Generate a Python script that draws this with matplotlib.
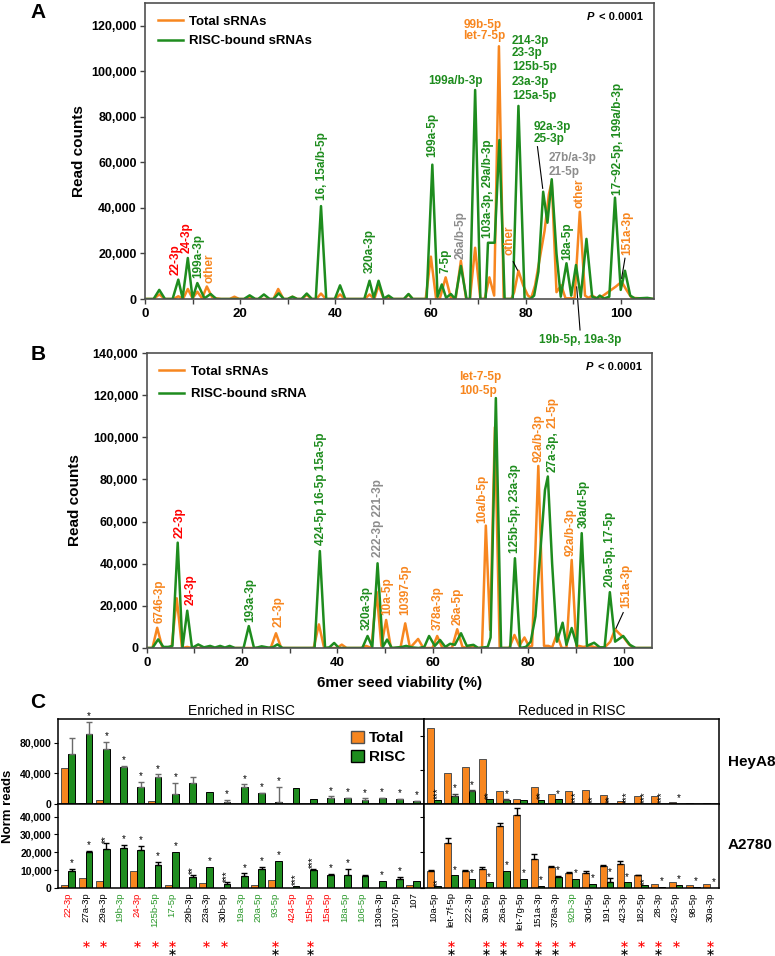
import matplotlib
matplotlib.use('Agg')
import matplotlib.pyplot as plt
from matplotlib.patches import Patch
import matplotlib.transforms as mtransforms

plt.rcParams['font.family'] = ['Liberation Sans', 'DejaVu Sans']

ORG = '#F7861F'
GRN = '#1E8C1E'
RED = '#FF0000'
GRY = '#8C8C8C'
LBL = {'r': RED, 'g': '#2A982A', 'k': 'black'}

# ---- panel A: read counts vs seed viability ----
a_tot_x = [0, 1.8, 3, 4.2, 6, 7, 8, 9, 10, 11, 12, 13, 14.1, 15, 16, 17.8, 18.8, 19.8, 21, 22, 23,
           27, 28, 29.1, 30, 31, 32, 33, 34, 35, 36, 37, 38, 40, 41, 42, 46.2, 47.2, 48.2, 49.1,
           50.2, 51.2, 52, 54.5, 55.4, 56.3, 59, 60.1, 61.2, 62, 63.2, 64.3, 65.3, 66.4, 67.5,
           68.3, 69.4, 70.5, 71.4, 72.4, 73.4, 74.4, 75.4, 77, 77.6, 78.5, 79.5, 80.5, 81.2, 82,
           83, 84, 84.9, 85.5, 86.5, 87.5, 88.4, 90.3, 91.4, 92.5, 93.2, 94, 95, 96, 97, 98, 99,
           100.2, 101.2, 102.3, 107]
a_tot_y = [0, 0, 2000, 0, 0, 1200, 0, 4400, 300, 3200, 300, 5500, 800, 300, 0, 0, 1000, 0, 0, 600, 0,
           0, 4400, 0, 0, 1000, 0, 0, 1800, 0, 0, 2400, 0, 0, 2000, 0, 0, 2000, 0, 6000,
           0, 500, 0, 0, 2000, 0, 0, 18600, 0, 300, 9500, 500, 0, 16800, 0,
           0, 22500, 0, 0, 9500, 1500, 111000, 0, 0, 3000, 12400, 6000, 1500, 500, 6000,
           18000, 30000, 46000, 51500, 3000, 6000, 300, 300, 38300, 1500, 500, 1500, 300, 1000, 2500, 4000, 5500,
           7600, 4000, 500, 0]
a_risc_x = [0, 1.8, 3, 4.2, 5.8, 7, 7.9, 9, 10, 11, 12.5, 13.8, 15, 20.8, 22, 23.2, 23.8, 25, 26.2,
            27, 28.1, 29.2, 30, 31, 32, 32.9, 34, 35.1, 35.9, 37, 38.1, 39.9, 41, 42.1, 46.1, 47.2,
            48.1, 49.1, 50.2, 51.2, 52.2, 54.4, 55.4, 56.3, 59.2, 60.4, 61.5, 62.4, 63.3, 64.3,
            65.2, 66.4, 67.6, 68.3, 69.4, 70.5, 71.6, 72.1, 73.5, 74.5, 75.6, 77.3, 78.5, 79.8, 81,
            81.8, 82.7, 83.7, 84.6, 85.5, 86.5, 87.4, 88.6, 89.6, 90.6, 91.6, 92.8, 94, 95, 95.6,
            96.5, 97.6, 98.8, 100, 100.9, 102, 103, 105.6, 107]
a_risc_y = [0, 0, 4000, 0, 0, 8500, 300, 18000, 300, 7000, 300, 2200, 0, 0, 1600, 0, 0, 2000, 0,
            0, 2500, 0, 0, 1000, 0, 0, 2400, 0, 0, 40800, 0, 0, 6000, 0, 0, 8000,
            500, 8000, 200, 1500, 0, 0, 2200, 0, 0, 59000, 1000, 6400, 500, 2200,
            0, 14500, 0, 0, 91800, 0, 0, 24700, 24700, 69800, 0, 0, 84800, 0, 0,
            1500, 12000, 47100, 33500, 52600, 20000, 1000, 15700, 1500, 14900, 800, 26400, 1000, 300, 1500,
            200, 1000, 44500, 4000, 12400, 1500, 200, 500, 0]

# ---- panel B ----
b_tot_x = [0, 1.2, 2.2, 3.3, 5.2, 6.3, 7.4, 8.5, 9.5, 26, 27.1, 28.2, 35, 36.1, 37.2, 39.9, 40.9,
           41.9, 45, 46, 47.1, 48.2, 49.2, 50.2, 51.2, 53.2, 54.2, 55.2, 56.9, 58, 59.9, 60.9, 62,
           64, 65.1, 66.2, 67.3, 68.3, 69.3, 70.3, 71.1, 72, 73, 74, 76, 77.1, 78.1, 79.2, 80.2,
           80.8, 82.1, 83.3, 84.2, 85, 86, 87, 88, 89.1, 90.1, 90.6, 91.5, 93, 94, 96, 97.2, 98.2,
           99, 100, 101, 102, 106]
b_tot_y = [0, 0, 9600, 0, 0, 23600, 0, 500, 0, 0, 7000, 0, 0, 11200, 0, 0, 1600,
           0, 0, 1000, 0, 26700, 1000, 13300, 0, 0, 11700, 0, 4300, 0, 0, 5700, 0,
           0, 8900, 500, 0, 1000, 0, 0, 58100, 8600, 104800, 0, 0, 6200, 1000, 5000, 500,
           1000, 86400, 1000, 1000, 300, 6600, 0, 0, 41800, 500, 1000, 500, 1000, 300, 300, 3000, 8900,
           7000, 5000, 2000, 0, 0]
b_risc_x = [0, 1.2, 2.4, 3.5, 4.5, 5.4, 6.5, 7.5, 8.5, 9.5, 10.8, 12, 13.3, 14.3, 15.4, 16.4, 17.4,
            18.5, 20.3, 21.4, 22.5, 23.3, 24.1, 25.5, 26.4, 27.4, 28.5, 35.2, 36.3, 37.4, 38.3,
            39.3, 40.3, 45.2, 46.3, 47.3, 48.4, 49.5, 50.4, 51.4, 53.5, 54.4, 55.5, 57, 58.2, 59.2,
            60.4, 61.5, 62.6, 63.6, 64.6, 65.9, 67.1, 68.5, 69.5, 71.5, 72.1, 73.2, 74.3, 76.2,
            77.2, 78.3, 79.5, 80.5, 81.5, 82.5, 83.5, 84.1, 85, 86, 87.2, 88, 89.1, 90.2, 91.2,
            92.3, 93.8, 95, 96, 97.1, 98.2, 99.9, 101.3, 102.5, 106]
b_risc_y = [0, 0, 4100, 500, 500, 1000, 50000, 0, 17700, 0, 1700, 300, 1000, 200, 1000, 200, 1000,
            0, 0, 10400, 0, 300, 800, 200, 300, 1700, 0, 0, 46000, 0, 300,
            2400, 0, 0, 5700, 500, 40200, 500, 4000, 0, 500, 1000, 300, 0, 500, 5700,
            1000, 3800, 500, 2000, 1500, 7000, 1000, 1500, 0, 500, 5000, 118600, 0, 0,
            42600, 0, 500, 3000, 15000, 45000, 75000, 81400, 40000, 3000, 12000, 1500, 9500, 1000, 54500,
            1000, 2500, 300, 300, 26500, 3000, 5700, 1500, 0, 0]

# ---- panel C ----
cats_enr = ['22-3p', '27a-3p', '29a-3p', '19b-3p', '24-3p', '125b-5p', '17-5p', '29b-3p', '23a-3p',
            '30b-5p', '19a-3p', '20a-5p', '93-5p', '424-5p', '15b-5p', '15a-5p', '18a-5p',
            '106-5p', '130a-3p', '1307-5p', '107']
cols_enr = ['r', 'k', 'k', 'g', 'r', 'g', 'g', 'k', 'k', 'k', 'g', 'g', 'g', 'r', 'r', 'r', 'g', 'g',
            'k', 'k', 'k']
cats_red = ['10a-5p', 'let-7f-5p', '222-3p', '30a-5p', '26a-5p', 'let-7g-5p', '151a-3p', '378a-3p',
            '92b-3p', '30d-5p', '191-5p', '423-3p', '182-5p', '28-3p', '423-5p', '98-5p', '30a-3p']
cols_red = ['k'] * 8 + ['g'] + ['k'] * 8

heya8_enr_tot = [47000, 1000, 5500, 300, 300, 4500, 1500, 0, 600, 600, 300, 1500, 400, 300, 500,
                 300, 300, 500, 300, 300, 300]
heya8_enr_risc = [65000, 92000, 72000, 48000, 22600, 35000, 12600, 28000, 16000, 3000, 22600, 14000,
                  3000, 21500, 6000, 8000, 7800, 5600, 7400, 6000, 4000]
heya8_enr_risc_err = [21000, 15000, 9000, 2000, 6500, 3700, 15200, 7000, 0, 2000, 3000, 1000,
                      19000, 0, 0, 2000, 500, 1800, 1000, 500, 500]
heya8_enr_sig = ['', '*', '*', '*', '*', '*', '*', '', '', '*', '*', '*', '*', '', '', '*', '*', '*',
                 '*', '*', '*']

heya8_red_tot = [89000, 36900, 44000, 53000, 15000, 6300, 20000, 11400, 15000, 16000, 11000, 3000,
                 9400, 10000, 2000, 1200, 1200]
heya8_red_risc = [4700, 9400, 15000, 5500, 4300, 5000, 4700, 5500, 500, 500, 200, 200, 200, 200,
                  200, 0, 0]
heya8_red_risc_err = [0, 2400, 1000, 0, 1000, 0, 0, 0, 0, 0, 0, 0, 0, 0, 0, 0, 0]
heya8_red_sig = ['***', '*', '*', '**', '*', '', '**', '*', '***', '**', '**', '***', '***', '***',
                 '*', '', '']

a2780_enr_tot = [1800, 5700, 3900, 300, 9800, 1000, 2000, 200, 2800, 200, 200, 1800, 4600, 0, 200,
                 0, 200, 0, 200, 0, 1600]
a2780_enr_risc = [9800, 20200, 21700, 22600, 21500, 13000, 20300, 6500, 12000, 2200, 7000, 10900,
                  15200, 1300, 10400, 7400, 7600, 7000, 4200, 5400, 3900]
a2780_enr_risc_err = [1200, 500, 3300, 1800, 2000, 1800, 0, 900, 0, 1100, 1300, 900, 0, 0, 600,
                      700, 3100, 500, 0, 1100, 0]
a2780_enr_sig = ['*', '*', '**', '*', '*', '*', '*', '**', '*', '***', '*', '*', '*', '***', '***',
                 '*', '*', '', '*', '*', '']

a2780_red_tot = [9800, 25000, 9800, 10700, 34600, 40900, 16500, 12000, 8700, 8700, 12400, 13300,
                 7400, 2400, 3300, 1800, 2200]
a2780_red_tot_err = [300, 3300, 600, 900, 1700, 3900, 2900, 400, 300, 1100, 400, 1700, 200, 0, 0,
                     0, 0]
a2780_red_risc = [1100, 7200, 5400, 3300, 9800, 5200, 1300, 6100, 5200, 2400, 3300, 3300, 1700,
                  600, 2000, 800, 300]
a2780_red_risc_err = [0, 0, 0, 0, 0, 0, 0, 900, 0, 0, 2300, 0, 0, 0, 0, 0, 0]
a2780_red_sig = ['**', '*', '*', '*', '*', '*', '*', '*', '*', '*', '*', '*', '**', '*', '*', '*', '*']

red_star_enr = [0, 1, 1, 0, 1, 1, 1, 0, 1, 1, 0, 0, 1, 0, 1, 0, 0, 0, 0, 0, 0]
blk_star_enr = [0, 0, 0, 0, 0, 0, 1, 0, 0, 0, 0, 0, 1, 0, 1, 0, 0, 0, 0, 0, 0]
red_star_red = [0, 1, 0, 1, 1, 1, 1, 1, 1, 0, 0, 1, 1, 1, 1, 0, 1]
blk_star_red = [0, 1, 0, 1, 1, 0, 1, 1, 0, 0, 0, 1, 0, 1, 0, 0, 1]

W, H = 775, 956
fig = plt.figure(figsize=(W / 100, H / 100), dpi=100)


def box(l, t, r, b):
    return [l / W, 1 - b / H, (r - l) / W, (b - t) / H]


def curve_axes(ax, xmax, ymax, ystep):
    ax.set_xlim(0, xmax)
    ax.set_ylim(0, ymax)
    ax.set_xticks(range(0, 101, 10))
    ax.set_xticklabels([str(v) if v % 20 == 0 else '' for v in range(0, 101, 10)])
    yt = list(range(0, ymax + 1, ystep))
    ax.set_yticks(yt)
    ax.set_yticklabels(['{:,}'.format(v) for v in yt])
    for t in ax.get_xticklabels():
        t.set_fontweight('bold')
        t.set_fontsize(9.5)
    for t in ax.get_yticklabels():
        t.set_fontweight('bold')
        t.set_fontsize(9)
    ax.tick_params(axis='both', length=3.5, width=1, direction='out', color='#404040')
    ax.tick_params(axis='x', pad=3)
    ax.tick_params(axis='y', pad=2.5)
    for s in ax.spines.values():
        s.set_color('#505050')
        s.set_linewidth(1.2)


def lab(ax, x, y, s, c, rot=90, ha='center', va='bottom'):
    ax.text(x, y, s, color=c, rotation=rot, ha=ha, va=va, fontsize=8.5, fontweight='bold',
            clip_on=False)


def lead(ax, x1, y1, x2, y2):
    ax.plot([x1, x2], [y1, y2], color='black', lw=0.8, clip_on=False)


def pval(ax, x, y):
    ax.text(x - 0.009, y, 'P', style='italic', fontweight='bold', fontsize=8, ha='right', va='center',
            transform=ax.transAxes)
    ax.text(x, y, '< 0.0001', fontweight='bold', fontsize=8, ha='left', va='center',
            transform=ax.transAxes)


# ---------------- A ----------------
axA = fig.add_axes(box(145, 3, 654, 299))
axA.plot(a_tot_x, a_tot_y, color=ORG, lw=1.8, solid_joinstyle='round', label='Total sRNAs')
axA.plot(a_risc_x, a_risc_y, color=GRN, lw=1.8, solid_joinstyle='round', label='RISC-bound sRNAs')
curve_axes(axA, 107, 130000, 20000)
axA.set_ylabel('Read counts', fontsize=11, fontweight='bold')
axA.yaxis.set_label_coords(-(145 - 86) / 509, 0.5)
axA.legend(loc='upper left', bbox_to_anchor=(0.025, 0.958), frameon=False, borderaxespad=0,
           borderpad=0, handlelength=1.9, handletextpad=0.5, labelspacing=0.55,
           prop={'weight': 'bold', 'size': 9.5})
pval(axA, 0.891, 0.954)

lab(axA, 6.45, 10500, '22-3p', RED)
lab(axA, 8.77, 20200, '24-3p', RED)
lab(axA, 11.1, 9200, '199a-3p', GRN)
lab(axA, 13.6, 7000, 'other', ORG)
lab(axA, 37.15, 43500, '16, 15a/b-5p', GRN)
lab(axA, 47.15, 11400, '320a-3p', GRN)
lab(axA, 60.3, 62400, '199a-5p', GRN)
lab(axA, 63.2, 11400, '7-5p', GRN)
lab(axA, 66.4, 17600, '26a/b-5p', GRY)
lab(axA, 72.2, 26800, '103a-3p, 29a/b-3p', GRN)
lab(axA, 76.7, 19300, 'other', ORG)
lead(axA, 77.4, 16400, 78.3, 12700)
lab(axA, 65.2, 95700, '199a/b-3p', GRN, rot=0, va='center')
lab(axA, 66.9, 120300, '99b-5p', ORG, rot=0, ha='left', va='center')
lab(axA, 66.9, 115500, 'let-7-5p', ORG, rot=0, ha='left', va='center')
for s, yv in zip(['214-3p', '23-3p', '125b-5p', '23a-3p', '125a-5p'],
                 [113400, 107900, 101800, 95400, 89200]):
    lab(axA, 77.1, yv, s, GRN, rot=0, ha='left', va='center')
lab(axA, 81.6, 75700, '92a-3p', GRN, rot=0, ha='left', va='center')
lab(axA, 81.6, 70100, '25-3p', GRN, rot=0, ha='left', va='center')
lead(axA, 82.5, 66900, 83.6, 48600)
lab(axA, 84.8, 61800, '27b/a-3p', GRY, rot=0, ha='left', va='center')
lab(axA, 84.8, 55900, '21-5p', GRY, rot=0, ha='left', va='center')
lab(axA, 91.4, 40000, 'other', ORG)
lab(axA, 88.8, 17100, '18a-5p', GRN)
lab(axA, 99.5, 45700, '17~92-5p, 199a/b-3p', GRN)
lab(axA, 101.4, 19300, '151a-3p', ORG)
lead(axA, 100.9, 17900, 100.2, 9100)
lab(axA, 91.4, -18000, '19b-5p, 19a-3p', GRN, rot=0, va='center')
lead(axA, 90.75, 5300, 91.45, -13600)

# ---------------- B ----------------
axB = fig.add_axes(box(146.7, 353, 652.3, 648))
axB.plot(b_tot_x, b_tot_y, color=ORG, lw=1.8, solid_joinstyle='round', label='Total sRNAs')
axB.plot(b_risc_x, b_risc_y, color=GRN, lw=1.8, solid_joinstyle='round', label='RISC-bound sRNA')
curve_axes(axB, 106, 140000, 20000)
axB.set_ylabel('Read counts', fontsize=11, fontweight='bold')
axB.yaxis.set_label_coords(-(146.7 - 82) / 505.6, 0.5)
axB.set_xlabel('6mer seed viability (%)', fontsize=11, fontweight='bold', labelpad=5)
axB.legend(loc='upper left', bbox_to_anchor=(0.025, 0.958), frameon=False, borderaxespad=0,
           borderpad=0, handlelength=1.9, handletextpad=0.5, labelspacing=0.8,
           prop={'weight': 'bold', 'size': 9.5})
pval(axB, 0.893, 0.954)

lab(axB, 2.8, 11700, '6746-3p', ORG)
lab(axB, 7.0, 52100, '22-3p', RED)
lab(axB, 9.2, 20400, '24-3p', RED)
lab(axB, 21.8, 12500, '193a-3p', GRN)
lab(axB, 27.6, 10100, '21-3p', ORG)
lab(axB, 36.5, 48900, '424-5p 16-5p 15a-5p', GRN)
lab(axB, 48.4, 43100, '222-3p 221-3p', GRY)
lab(axB, 46.1, 8600, '320a-3p', GRN)
lab(axB, 50.4, 15700, '10a-5p', ORG)
lab(axB, 54.2, 15700, '10397-5p', ORG)
lab(axB, 61.1, 8600, '378a-3p', ORG)
lab(axB, 65.1, 10900, '26a-5p', ORG)
lab(axB, 70.4, 59200, '10a/b-5p', ORG)
lab(axB, 65.5, 128600, 'let-7-5p', ORG, rot=0, ha='left', va='center')
lab(axB, 65.5, 122200, '100-5p', ORG, rot=0, ha='left', va='center')
lab(axB, 77.2, 45000, '125b-5p, 23a-3p', GRN)
lab(axB, 82.1, 88500, '92a/b-3p', ORG)
lab(axB, 85.0, 83700, '27a-3p,', GRN)
lab(axB, 85.0, 104600, '21-5p', ORG)
lab(axB, 88.9, 43700, '92a/b-3p', ORG)
lab(axB, 91.7, 56900, '30a/d-5p', GRN)
lab(axB, 97.1, 29100, '20a-5p, 17-5p', GRN)
lab(axB, 100.5, 18900, '151a-3p', ORG)
lead(axB, 99.9, 16800, 98.4, 9400)

# ---------------- C ----------------
ax_tl = fig.add_axes(box(58, 719, 424, 804))
ax_tr = fig.add_axes(box(424, 719, 719, 804))
ax_bl = fig.add_axes(box(58, 804, 424, 888.3))
ax_br = fig.add_axes(box(424, 804, 719, 888.3))


def bars(ax, tot, risc, risc_err, sig, tot_err=None, ecol='#555555'):
    n = len(tot)
    xs = list(range(n))
    ax.bar([x - 0.4 for x in xs], tot, 0.4, align='edge', color=ORG, edgecolor='#505050', lw=0.7)
    ax.bar(xs, risc, 0.4, align='edge', color=GRN, edgecolor='black', lw=0.7)
    if tot_err is not None:
        idx = [i for i in xs if tot_err[i] > 0]
        ax.errorbar([i - 0.2 for i in idx], [tot[i] for i in idx],
                    yerr=[[0] * len(idx), [tot_err[i] for i in idx]], fmt='none',
                    ecolor=ecol, elinewidth=1, capsize=2.2, capthick=1)
    idx = [i for i in xs if risc_err[i] > 0]
    ax.errorbar([i + 0.2 for i in idx], [risc[i] for i in idx],
                yerr=[[0] * len(idx), [risc_err[i] for i in idx]], fmt='none',
                ecolor=ecol, elinewidth=1, capsize=2.2, capthick=1)
    for i in xs:
        if sig[i]:
            top = risc[i] + risc_err[i]
            ax.annotate(sig[i], (i + 0.2, top), xytext=(0, 0.5), textcoords='offset points',
                        ha='center', va='bottom', fontsize=7,
                        rotation=90 if len(sig[i]) > 1 else 0, annotation_clip=False)


bars(ax_tl, heya8_enr_tot, heya8_enr_risc, heya8_enr_risc_err, heya8_enr_sig, ecol='#6a6a6a')
bars(ax_tr, heya8_red_tot, heya8_red_risc, heya8_red_risc_err, heya8_red_sig, ecol='#404040')
bars(ax_bl, a2780_enr_tot, a2780_enr_risc, a2780_enr_risc_err, a2780_enr_sig, ecol='black')
bars(ax_br, a2780_red_tot, a2780_red_risc, a2780_red_risc_err, a2780_red_sig,
     tot_err=a2780_red_tot_err, ecol='black')

for ax in (ax_tl, ax_bl):
    ax.set_xlim(-0.6, 20.62)
for ax in (ax_tr, ax_br):
    ax.set_xlim(-0.58, 16.52)

ax_tl.set_ylim(0, 111000)
ax_tl.set_yticks([0, 40000, 80000])
ax_tl.set_yticklabels(['0', '40,000', '80,000'])
ax_bl.set_ylim(0, 47000)
ax_bl.set_yticks([0, 10000, 20000, 30000, 40000])
ax_bl.set_yticklabels(['0', '10,000', '20,000', '30,000', '40,000'])
ax_tr.set_ylim(0, 100000)
ax_tr.set_yticks([0, 40000, 80000])
ax_tr.set_yticklabels([])
ax_br.set_ylim(0, 47000)
ax_br.set_yticks([0, 20000, 40000])
ax_br.set_yticklabels([])

for ax in (ax_tl, ax_tr, ax_bl, ax_br):
    ax.tick_params(axis='y', length=3, width=0.8, pad=1.5, labelsize=7.5)
    for t in ax.get_yticklabels():
        t.set_fontweight('bold')
    for s in ax.spines.values():
        s.set_linewidth(1.1)
    ax.tick_params(axis='x', length=0)
for ax in (ax_tl, ax_tr):
    ax.set_xticks([])

ax_bl.set_xticks(range(len(cats_enr)))
ax_bl.set_xticklabels(cats_enr, rotation=90, fontsize=6.8)
for t, c in zip(ax_bl.get_xticklabels(), cols_enr):
    t.set_color(LBL[c])
ax_br.set_xticks(range(len(cats_red)))
ax_br.set_xticklabels(cats_red, rotation=90, fontsize=6.8)
for t, c in zip(ax_br.get_xticklabels(), cols_red):
    t.set_color(LBL[c])
ax_bl.tick_params(axis='x', pad=3)
ax_br.tick_params(axis='x', pad=3)

# marker rows of asterisks under the category labels
for ax, rs, bs in [(ax_bl, red_star_enr, blk_star_enr), (ax_br, red_star_red, blk_star_red)]:
    tr = mtransforms.blended_transform_factory(ax.transData, fig.transFigure)
    rx = [i for i in range(len(rs)) if rs[i]]
    bx = [i for i in range(len(bs)) if bs[i]]
    ax.plot(rx, [1 - 943.5 / H] * len(rx), ls='none', marker=r'$*$', ms=4.5, mew=0.2,
            color=RED, transform=tr, clip_on=False)
    ax.plot(bx, [1 - 952 / H] * len(bx), ls='none', marker=r'$*$', ms=4.5, mew=0.2,
            color='black', transform=tr, clip_on=False)

ax_tl.legend([Patch(facecolor=ORG, edgecolor='#505050'), Patch(facecolor=GRN, edgecolor='black')],
             ['Total', 'RISC'], loc='upper left', bbox_to_anchor=(0.80, 0.86), frameon=False,
             borderaxespad=0, borderpad=0, handlelength=0.85, handleheight=0.85,
             handletextpad=0.35, labelspacing=0.3, prop={'weight': 'bold', 'size': 11})

fig.text(241 / W, 1 - 711 / H, 'Enriched in RISC', ha='center', va='center', fontsize=10)
fig.text(571.5 / W, 1 - 711 / H, 'Reduced in RISC', ha='center', va='center', fontsize=10)
fig.text(728 / W, 1 - 761.7 / H, 'HeyA8', ha='left', va='center', fontsize=11, fontweight='bold')
fig.text(728 / W, 1 - 845 / H, 'A2780', ha='left', va='center', fontsize=11, fontweight='bold')
fig.text(8.5 / W, 1 - 806 / H, 'Norm reads', rotation=90, ha='center', va='center', fontsize=9.5,
         fontweight='bold')

fig.text(38 / W, 1 - 12 / H, 'A', ha='center', va='center', fontsize=15, fontweight='bold')
fig.text(38 / W, 1 - 355 / H, 'B', ha='center', va='center', fontsize=15, fontweight='bold')
fig.text(38 / W, 1 - 703 / H, 'C', ha='center', va='center', fontsize=15, fontweight='bold')

fig.savefig('out.png', dpi=100)
